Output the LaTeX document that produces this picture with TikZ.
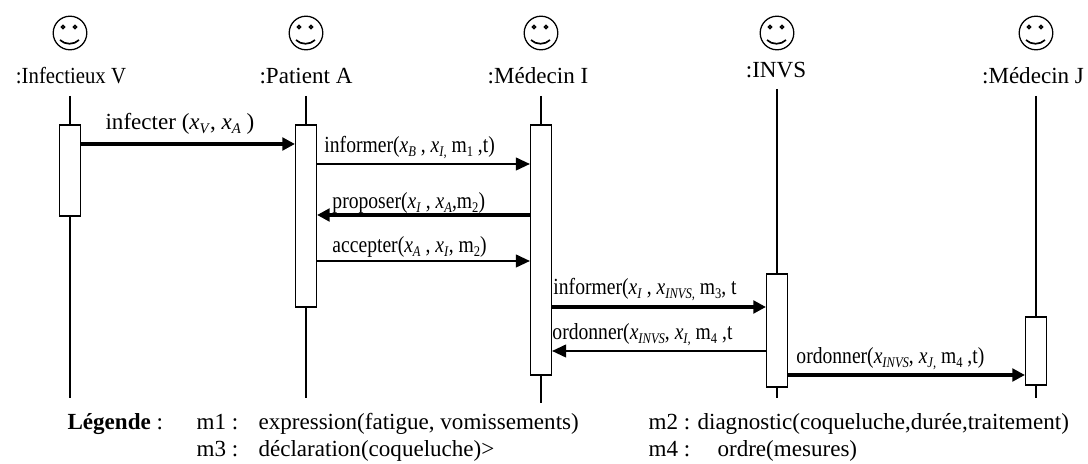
\documentclass[tikz,border=0pt]{standalone}
\usepackage{fontspec}
\setmainfont{Liberation Serif}
\usepackage{tikz}
\usetikzlibrary{arrows.meta}
\newcommand{\xvar}[1]{\textit{x}\raisebox{-2.5pt}{\fontsize{10.5pt}{12pt}\selectfont\textit{#1}}}
\newcommand{\msub}[1]{\raisebox{-2.5pt}{\fontsize{10.5pt}{12pt}\selectfont #1}}
\begin{document}
\begin{tikzpicture}[x=0.025cm, y=-0.025cm, thick, font=\fontsize{16.4pt}{18pt}\selectfont,
	actor face/.style={circle, draw, line width=0.9pt, minimum size=0.84cm, inner sep=0pt,
		path picture={
			\draw [line width=1pt, fill=white] (path picture bounding box.center) ++(-7,-6) circle (1.7);
			\draw [line width=1pt, fill=white] (path picture bounding box.center) ++(5,-6) circle (1.7);
			\draw [line width=1.2pt] (path picture bounding box.center) ++(-10,7) .. controls +(5,5) and +(-5,5) .. +(19,0);
		}},
	actor label/.style={anchor=base, inner sep=0pt},
	msg label/.style={anchor=base west, inner sep=0pt},
	tight label/.style={msg label, xscale=0.85, transform shape},
	life line/.style={line width=0.9pt},
	active box/.style={rectangle, draw, fill=white, line width=0.9pt, minimum width=0.52cm, inner sep=0pt},
	msg thin/.style={-{Triangle[length=10pt, width=9pt]}, line width=1.5pt},
	msg thick/.style={-{Triangle[length=9pt, width=9pt]}, line width=2.4pt},
]
\useasboundingbox (0,0) rectangle (1088,464);
\node [actor face] at (70,33) (faceV) {};
\node [actor face] at (306,33) (faceA) {};
\node [actor face] at (541,33) (faceI) {};
\node [actor face] at (777,33) (faceS) {};
\node [actor face] at (1036,33) (faceJ) {};
\node [actor label, xscale=0.9, transform shape] at (71,84) (nameV) {:Infectieux V};
\node [actor label] at (306,84) (nameA) {:Patient A};
\node [actor label] at (538,84) (nameI) {:Médecin I};
\node [actor label] at (776,78) (nameS) {:INVS};
\node [actor label] at (1033,84) (nameJ) {:Médecin J};
%
\coordinate (topV) at (70,96);
\coordinate (topA) at (306,96);
\coordinate (topI) at (541,96);
\coordinate (topS) at (777,89);
\coordinate (topJ) at (1036,96);
\coordinate (endV) at (70,398);
\coordinate (endA) at (306,398);
\coordinate (endI) at (541,403);
\coordinate (endS) at (777,398);
\coordinate (endJ) at (1036,398);
\draw [life line] (topV) -- (endV);
\draw [life line] (topA) -- (endA);
\draw [life line] (topI) -- (endI);
\draw [life line] (topS) -- (endS);
\draw [life line] (topJ) -- (endJ);
%
\node [msg label] at (105,130) (infecter) {infecter (\xvar{V}, \xvar{A} )};
\node [tight label] at (324,153) (informerB) {informer(\xvar{B} , \xvar{I,} m\msub{1} ,t)};
\node [tight label] at (332,209) (proposer) {proposer(\xvar{I} , \xvar{A},m\msub{2})};
\node [tight label] at (332,253) (accepter) {accepter(\xvar{A} , \xvar{I}, m\msub{2})};
\node [tight label] at (553,295) (informerI) {informer(\xvar{I} , \xvar{INVS,} m\msub{3}, t};
\node [tight label] at (552,340) (ordonnerI) {ordonner(\xvar{INVS}, \xvar{I,} m\msub{4} ,t};
\node [tight label] at (796,364) (ordonnerJ) {ordonner(\xvar{INVS}, \xvar{J,} m\msub{4} ,t)};
%
\node [active box, minimum height=2.275cm] at (70,170.5) (boxV) {};
\node [active box, minimum height=4.55cm] at (306,216) (boxA) {};
\node [active box, minimum height=6.25cm] at (541,250) (boxI) {};
\node [active box, minimum height=2.825cm] at (777,330.5) (boxS) {};
\node [active box, minimum height=1.7cm] at (1036,351) (boxJ) {};
%
\coordinate (rowA) at (0,144);
\coordinate (rowB) at (0,164);
\coordinate (rowC) at (0,215);
\coordinate (rowD) at (0,261);
\coordinate (rowE) at (0,307);
\coordinate (rowF) at (0,351);
\coordinate (rowG) at (0,375);
\draw [msg thick] (boxV.east |- rowA) -- (boxA.west |- rowA);
\draw [msg thin] (boxA.east |- rowB) -- (boxI.west |- rowB);
\draw [msg thick] (boxI.west |- rowC) -- (boxA.east |- rowC);
\draw [msg thin] (boxA.east |- rowD) -- (boxI.west |- rowD);
\draw [msg thick] (boxI.east |- rowE) -- (boxS.west |- rowE);
\draw [msg thin] (boxS.west |- rowF) -- (boxI.east |- rowF);
\draw [msg thick] (boxS.east |- rowG) -- (boxJ.west |- rowG);
%
\node [msg label] at (67,430) (legend) {\textbf{Légende} :};
\node [msg label] at (196,430) (keyA) {m1 :};
\node [msg label] at (258,430) (textA) {expression(fatigue, vomissements)};
\node [msg label] at (648,430) (keyB) {m2 :};
\node [msg label] at (697,430) (textB) {diagnostic(coqueluche,durée,traitement)};
\node [msg label] at (196,457) (keyC) {m3 :};
\node [msg label] at (258,457) (textC) {déclaration(coqueluche)>};
\node [msg label] at (648,457) (keyD) {m4 :};
\node [msg label] at (717,457) (textD) {ordre(mesures)};
\end{tikzpicture}
\end{document}
